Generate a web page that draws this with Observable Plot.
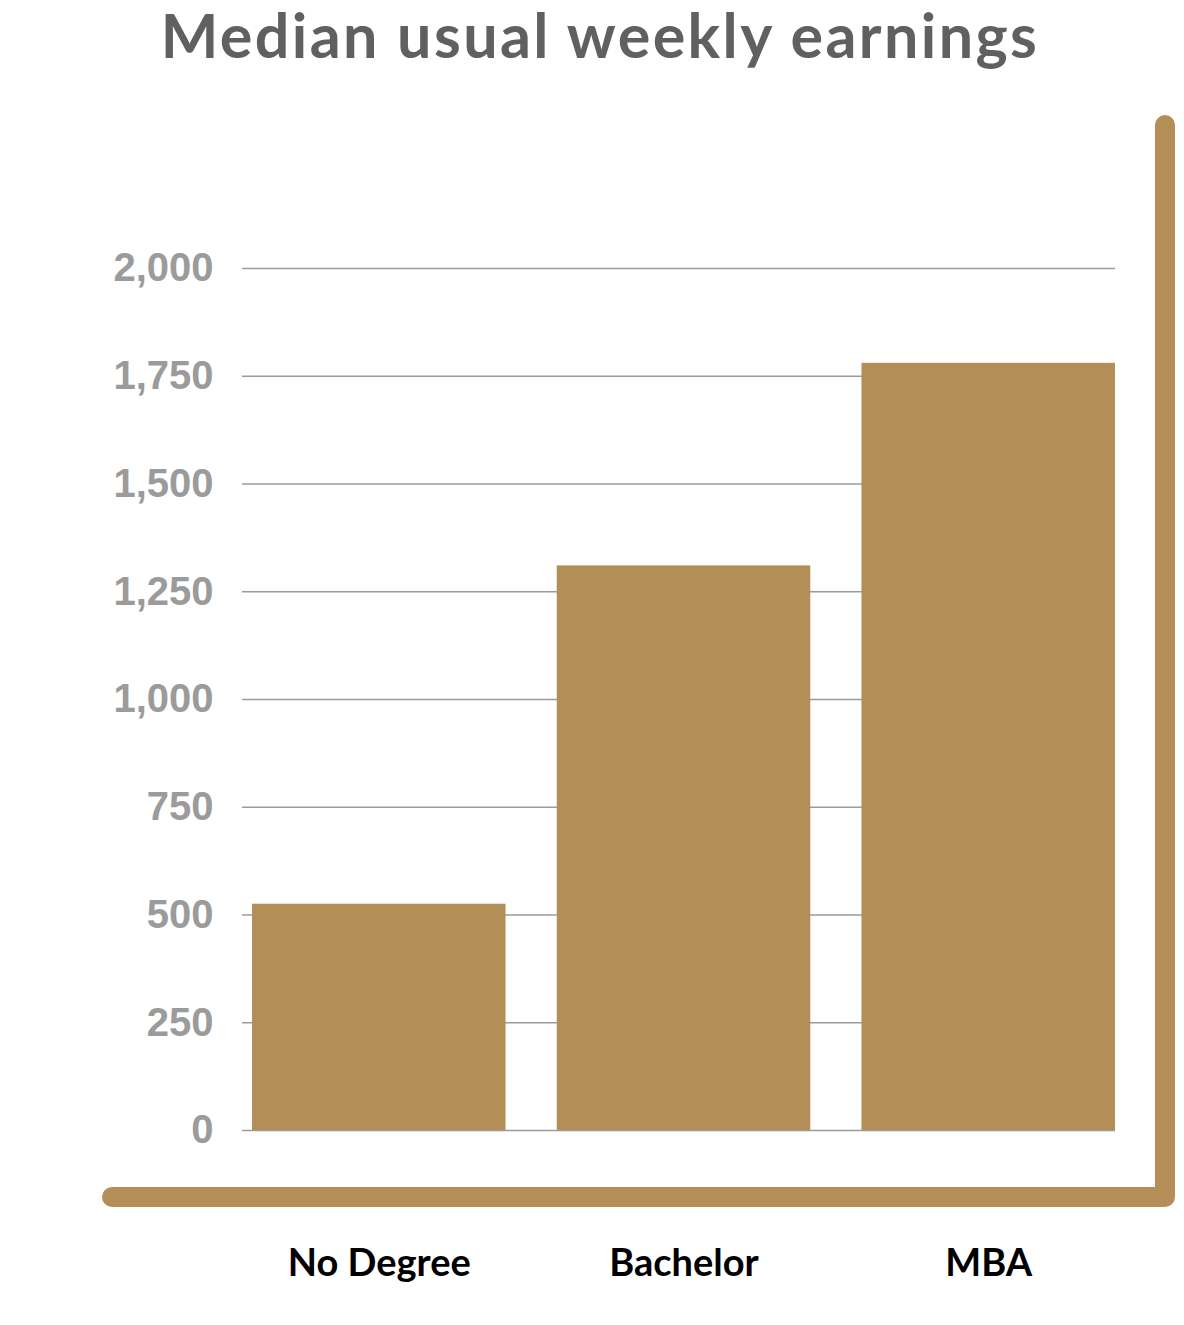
<!DOCTYPE html>
<html>
<head>
<meta charset="utf-8">
<script src="https://cdn.jsdelivr.net/npm/d3@7"></script>
<script src="https://cdn.jsdelivr.net/npm/@observablehq/plot@0.6"></script>
<style>
  body { margin: 0; background: #ffffff; }
  #chart-title {
    height: 80px;
    margin: 0;
    padding-left: 16px;
    font-family: Lato, "Noto Sans", sans-serif;
    font-weight: 700;
    font-size: 61px;
    line-height: 70px;
    letter-spacing: 2.4px;
    color: #606060;
    text-align: center;
    white-space: nowrap;
  }
</style>
</head>
<body>
<div id="chart-title">Median usual weekly earnings</div>
<div id="chart"></div>
<script>
// colours
const gold = '#b38f57';
const grid_grey = '#9b9b9b';
const tick_grey = '#9b9b9b';

// data
const degrees = ["No Degree", "Bachelor", "MBA"];
const earnings = [525, 1310, 1780];
const yTicks = [0, 250, 500, 750, 1000, 1250, 1500, 1750, 2000];

const data = degrees.map((d, i) => ({degree: d, earnings: earnings[i]}));

const chartOption = {width: 1184, height: 1245, marginTop: 188, marginBottom: 195, marginLeft: 242, marginRight: 69};
const thousands = d3.format(",");

// the gold L-shaped frame round the chart (decoration only)
function goldFrame(index, scales, values, dimensions) {
    const {width, height} = dimensions;
    const cx = width - 19;      // corner x
    const cy = height - 128;    // corner y
    const path = d3.create("svg:path")
        .attr("d", `M${112},${cy}L${cx},${cy}L${cx},${45}`)
        .attr("fill", "none")
        .attr("stroke", gold)
        .attr("stroke-width", 20)
        .attr("stroke-linecap", "round")
        .attr("stroke-linejoin", "round");
    return path.node();
}

const fig = Plot.plot({
    width: chartOption.width,
    height: chartOption.height,
    marginTop: chartOption.marginTop,
    marginBottom: chartOption.marginBottom,
    marginLeft: chartOption.marginLeft,
    marginRight: chartOption.marginRight,
    style: {background: "#ffffff", overflow: "visible"},
    x: {type: "band", domain: degrees, range: [252, 1115], paddingInner: 0.168, paddingOuter: 0, round: false},
    y: {domain: [0, 2000]},
    marks: [
        Plot.ruleY(yTicks, {stroke: grid_grey, strokeWidth: 1.5}),
        Plot.barY(data, {x: "degree", y: "earnings", fill: gold}),
        Plot.axisY({
            ticks: yTicks, tickSize: 0, tickPadding: 29, tickFormat: d => thousands(d), label: null,
            fontSize: 40, fontWeight: "bold", fill: tick_grey,
            fontFamily: "'Liberation Sans', Arial, sans-serif", letterSpacing: 4
        }),
        Plot.axisX({
            tickSize: 0, tickPadding: 119, label: null,
            fontSize: 38, fontWeight: "bold", fill: "#000000",
            fontFamily: "Lato, 'Noto Sans', sans-serif"
        }),
        goldFrame
    ]
});

document.querySelector('#chart').append(fig);
</script>
</body>
</html>
